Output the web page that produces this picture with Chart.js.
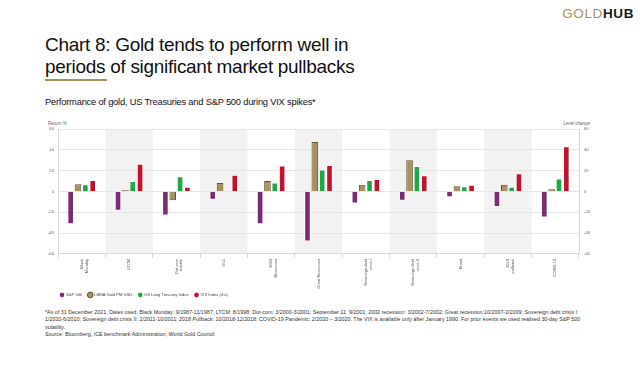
<!DOCTYPE html>
<html>
<head>
<meta charset="utf-8">
<script src="https://cdn.jsdelivr.net/npm/chart.js@4.4.1/dist/chart.umd.min.js"></script>
<style>
  html, body { margin:0; padding:0; background:#fff; }
  body { width:640px; height:366px; position:relative; overflow:hidden; font-family:"Liberation Sans", Arial, sans-serif; color:#111; }
  .abs { position:absolute; white-space:nowrap; }
  #logo { right:6px; top:6px; font-family:"Liberation Sans", Arial, sans-serif; font-size:13.5px; letter-spacing:0.6px; font-weight:bold; }
  #logo .g { color:#a8915e; font-weight:normal; }
  #logo .h { color:#1a1a1a; }
  #title { left:45px; top:34px; font-size:19px; line-height:21.5px; letter-spacing:-0.3px; color:#111; }
  #rule { left:45px; top:79px; width:62px; height:2px; background:#a8915e; }
  #subtitle { left:45px; top:97px; font-size:9.3px; letter-spacing:-0.2px; color:#111; }
  #ylabL { left:48px; top:121px; font-size:4.5px; color:#666; }
  #ylabR { left:560px; top:121px; font-size:4.5px; color:#666; font-style:italic; width:30px; text-align:right; }
  #foot { left:45px; top:308.5px; font-size:5.35px; line-height:7.5px; color:#333; }
  #wrap { position:absolute; left:30px; top:112px; width:580px; height:195px; }
</style>
</head>
<body>
<div id="logo" class="abs"><span class="g">GOLD</span><span class="h">HUB</span></div>
<div id="title" class="abs">Chart 8: Gold tends to perform well in<br>periods of significant market pullbacks</div>
<div id="rule" class="abs"></div>
<div id="subtitle" class="abs">Performance of gold, US Treasuries and S&amp;P 500 during VIX spikes*</div>
<div id="ylabL" class="abs">Return %</div>
<div id="ylabR" class="abs">Level change</div>
<div id="wrap"><canvas id="c" width="580" height="195"></canvas></div>
<div id="foot" class="abs">*As of 31 December 2021. Dates used: Black Monday: 9/1987-11/1987; LTCM: 8/1998; Dot-com: 3/2000-3/2001; September 11: 9/2001; 2002 recession: 3/2002-7/2002; Great recession:10/2007-2/2009; Sovereign debt crisis I:<br>1/2010-6/2010; Sovereign debt crisis II: 2/2011-10/2011; 2018 Pullback: 10/2018-12/2018; COVID-19 Pandemic: 2/2020 – 3/2020. The VIX is available only after January 1990. For prior events we used realised 30-day S&amp;P 500<br>volatility.<br>Source: Bloomberg, ICE benchmark Administration, World Gold Council</div>
<script>
const categories = [["Black","Monday"],"LTCM",["Dot-com","bubble"],"9/11",["2002","Recession"],"Great Recession",["Sovereign debt","crisis I"],["Sovereign debt","crisis II"],"Brexit",["2018","pullback"],"COVID-19"];
const sp500    = [-31.5,-18.5,-23,-8,-31.5,-48,-11.5,-9,-5.5,-15,-25];
const goldPM   = [7,1.5,-8.5,8,10,47.5,6.5,30,5,6.5,2];
const treasury = [7,10,14.5,0.5,8.5,21,11,24.5,5,4.5,12.5];
const vix      = [11,26.5,4.5,16,25,25.5,12,15.5,6.5,17.5,43.5];
const seriesNames = ["S&P 500","LBMA Gold PM USD","US Long Treasury Index","VIX Index (rhs)"];
const yMin = -60, yMax = 60, yStep = 20;
const FONT = '"Liberation Sans", Arial, sans-serif';

const bands = {
  id:'bands',
  beforeDraw(chart){
    const {ctx, chartArea, scales:{x}} = chart;
    const w = (chartArea.right - chartArea.left) / categories.length;
    ctx.save();
    ctx.fillStyle = '#f2f2f2';
    categories.forEach((c,i)=>{
      if(i%2===1){
        const cx = x.getPixelForValue(i);
        ctx.fillRect(cx - w/2, chartArea.top, w, chartArea.bottom - chartArea.top);
      }
    });
    ctx.restore();
  }
};
const legendShift = {
  id:'legendShift',
  afterLayout(chart){
    if(chart.legend){ chart.legend.left -= 4; chart.legend.right -= 4; }
  }
};

const common = { borderWidth:1, categoryPercentage:0.62, barPercentage:0.9 };
new Chart(document.getElementById('c'), {
  type:'bar',
  data:{
    labels:categories,
    datasets:[
      {label:seriesNames[0], data:sp500, backgroundColor:'#7b2c70', borderColor:'#ffffff', yAxisID:'y', ...common},
      {label:seriesNames[1], data:goldPM, backgroundColor:'#a8915e', borderColor:'#5f5030', yAxisID:'y', ...common},
      {label:seriesNames[2], data:treasury, backgroundColor:'#1fa84a', borderColor:'#ffffff', yAxisID:'y', ...common},
      {label:seriesNames[3], data:vix, backgroundColor:'#c4112e', borderColor:'#ffffff', yAxisID:'y2', ...common}
    ]
  },
  options:{
    responsive:false, animation:false, devicePixelRatio:1,
    layout:{padding:{top:17,left:0,right:0,bottom:0}},
    plugins:{
      tooltip:{enabled:false},
      legend:{
        position:'bottom', align:'start', fullSize:false,
        labels:{usePointStyle:true, pointStyle:'circle', boxWidth:4, boxHeight:4, padding:6,
          color:'#444', font:{family:FONT, size:4.1}}
      }
    },
    scales:{
      x:{
        grid:{display:true, drawOnChartArea:false, color:'#d9d9d9', tickLength:4},
        border:{color:'#d9d9d9'},
        ticks:{maxRotation:90, minRotation:90, autoSkip:false, padding:1, color:'#555',
          font:{family:FONT, size:4}},
        afterFit(s){ s.height = 33; s._computeLabelArea = () => undefined; }
      },
      y:{
        position:'left', min:yMin, max:yMax,
        ticks:{stepSize:yStep, color:'#666', padding:4, font:{family:FONT, size:4.2}},
        grid:{color:'#e6e6e6', drawTicks:false},
        border:{color:'#d9d9d9'},
        afterFit(s){ s.width = 28; }
      },
      y2:{
        position:'right', min:yMin, max:yMax,
        ticks:{stepSize:yStep, color:'#666', padding:5, font:{family:FONT, size:4.2}},
        grid:{drawOnChartArea:false, drawTicks:false},
        border:{color:'#d9d9d9'},
        afterFit(s){ s.width = 31; }
      }
    }
  },
  plugins:[bands, legendShift]
});
</script>
</body>
</html>
